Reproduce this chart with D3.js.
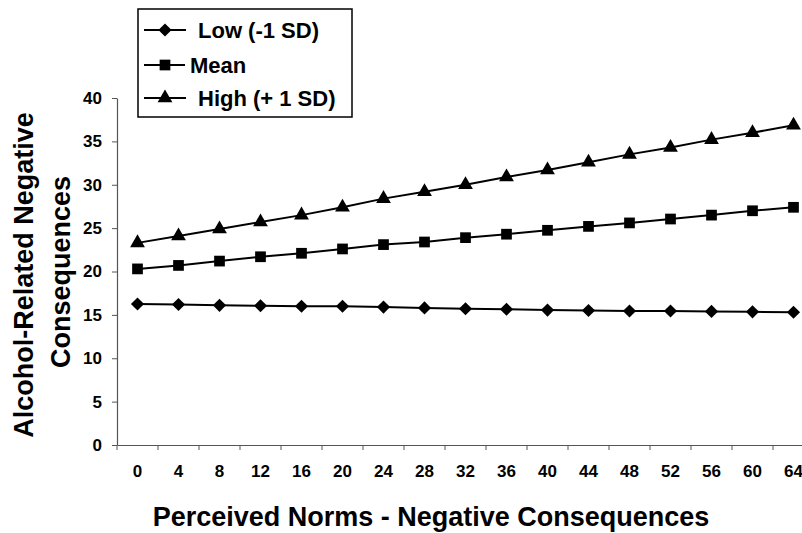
<!DOCTYPE html>
<html>
<head>
<meta charset="utf-8">
<script src="https://cdn.jsdelivr.net/npm/d3@7"></script>
<style>
  html, body { margin: 0; padding: 0; background: #fff; }
  svg { display: block; font-family: "Liberation Sans", Arial, sans-serif; font-weight: bold; }
</style>
</head>
<body>
<svg id="chart" width="802" height="533"></svg>
<script>
// ---- data ----
const categories = ["0","4","8","12","16","20","24","28","32","36","40","44","48","52","56","60","64"];
const lowValues  = [16.25,16.2,16.1,16.05,16.0,16.0,15.9,15.8,15.7,15.65,15.55,15.5,15.45,15.45,15.4,15.35,15.3];
const meanValues = [20.3,20.7,21.2,21.7,22.1,22.6,23.1,23.4,23.9,24.3,24.75,25.2,25.6,26.05,26.5,27.0,27.4];
const highValues = [23.3,24.1,24.9,25.7,26.5,27.4,28.4,29.2,30.0,30.9,31.7,32.6,33.5,34.3,35.2,36.0,36.85];
const yTicks = [0,5,10,15,20,25,30,35,40];
const seriesNames = ["Low (-1 SD)", "Mean", "High (+ 1 SD)"];
const seriesShapes = ["diamond", "square", "triangle"];
const xTitle = "Perceived Norms - Negative Consequences";
const yTitle1 = "Alcohol-Related Negative";
const yTitle2 = "Consequences";

const series = [
  { name: seriesNames[0], shape: seriesShapes[0], values: lowValues },
  { name: seriesNames[1], shape: seriesShapes[1], values: meanValues },
  { name: seriesNames[2], shape: seriesShapes[2], values: highValues }
];

const svg = d3.select("#chart");

const x = d3.scaleBand().domain(categories).range([117, 814]).padding(0);
const y = d3.scaleLinear().domain([0, 40]).range([445, 98]);

const symbolFor = {
  diamond: d3.symbol().type(d3.symbolDiamond2).size(110),
  square: d3.symbol().type(d3.symbolSquare).size(115),
  triangle: d3.symbol().type(d3.symbolTriangle).size(95)
};

// ---- y axis ----
const yAxis = d3.axisLeft(y).tickValues(yTicks).tickSize(5).tickSizeOuter(0).tickPadding(10);
const gy = svg.append("g").attr("transform", "translate(117,0)").call(yAxis);
gy.select(".domain").attr("stroke", "#555").attr("stroke-width", 1.2);
gy.selectAll(".tick line").attr("stroke", "#555");
gy.selectAll(".tick text").attr("font-size", 17).attr("font-weight", "bold")
  .attr("font-family", "'Liberation Sans', Arial, sans-serif").attr("fill", "#000");

// ---- x axis ----
const xAxis = d3.axisBottom(x).tickSize(0).tickSizeOuter(0).tickPadding(20);
const gx = svg.append("g").attr("transform", "translate(0,445)").call(xAxis);
gx.select(".domain").attr("stroke", "#555").attr("stroke-width", 1.2);
gx.selectAll(".tick text").attr("font-size", 17).attr("font-weight", "bold")
  .attr("font-family", "'Liberation Sans', Arial, sans-serif").attr("fill", "#000");
// tick marks at category boundaries
gx.selectAll(".bound").data(categories).enter().append("line")
  .attr("class", "bound")
  .attr("x1", d => x(d)).attr("x2", d => x(d))
  .attr("y1", 0).attr("y2", 5)
  .attr("stroke", "#555").attr("stroke-width", 1);

// ---- lines & markers ----
const line = d3.line().x((d, i) => x(categories[i]) + x.bandwidth() / 2).y(d => y(d));
series.forEach(s => {
  svg.append("path").datum(s.values).attr("d", line)
    .attr("fill", "none").attr("stroke", "#000").attr("stroke-width", 2);
  svg.selectAll(null).data(s.values).enter().append("path")
    .attr("d", symbolFor[s.shape])
    .attr("transform", (d, i) => `translate(${x(categories[i]) + x.bandwidth() / 2},${y(d)})`)
    .attr("fill", "#000");
});

// ---- axis titles ----
svg.append("text").attr("x", 431).attr("y", 526).attr("text-anchor", "middle")
  .attr("font-size", 27).text(xTitle);
svg.append("text").attr("transform", "translate(33,275) rotate(-90)").attr("text-anchor", "middle")
  .attr("font-size", 27).text(yTitle1);
svg.append("text").attr("transform", "translate(70,272) rotate(-90)").attr("text-anchor", "middle")
  .attr("font-size", 27).text(yTitle2);

// ---- legend ----
const lg = svg.append("g");
lg.append("rect").attr("x", 138).attr("y", 9).attr("width", 214).attr("height", 108)
  .attr("fill", "#fff").attr("stroke", "#000").attr("stroke-width", 1.5);
const legendY = [30, 65, 98];
const legendTextX = [198, 190, 198];
const legendLineEnd = [186, 185, 186];
series.forEach((s, i) => {
  lg.append("line").attr("x1", 144).attr("x2", legendLineEnd[i])
    .attr("y1", legendY[i]).attr("y2", legendY[i]).attr("stroke", "#000").attr("stroke-width", 2);
  lg.append("path").attr("d", symbolFor[s.shape])
    .attr("transform", `translate(165,${legendY[i]})`).attr("fill", "#000");
  lg.append("text").attr("x", legendTextX[i]).attr("y", legendY[i]).attr("dy", "0.36em")
    .attr("font-size", 22).text(s.name);
});
</script>
</body>
</html>
